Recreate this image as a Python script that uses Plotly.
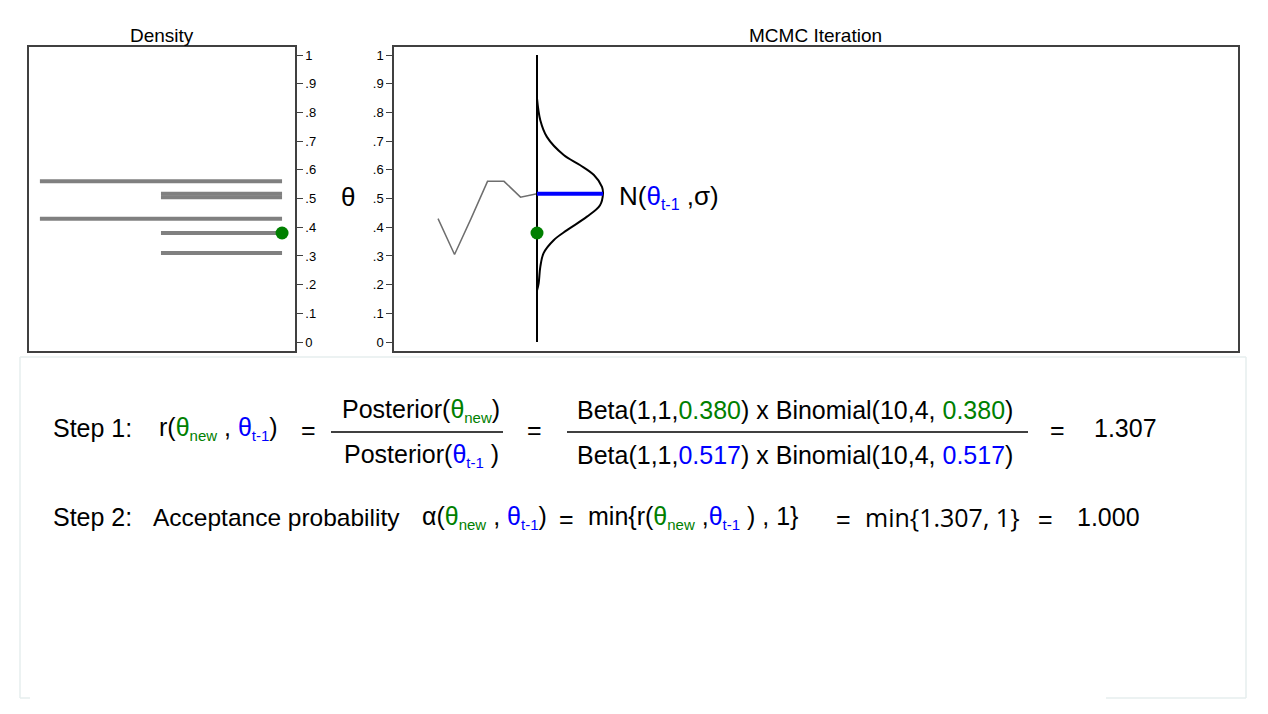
import plotly.graph_objects as go

# Density panel: horizontal bars (theta level, length in counts)
dens_theta = [0.56, 0.517, 0.505, 0.43, 0.38, 0.31]
dens_count = [2, 1, 1, 2, 1, 1]

# MCMC chain so far
iters = [1, 2, 3, 4, 5, 6, 7]
chain = [0.43, 0.305, 0.43, 0.56, 0.56, 0.505, 0.517]

# proposal
cur_iter = 7
theta_prev = 0.517
theta_new = 0.380

# proposal normal curve (x in iteration units)
curve_theta = [0.849, 0.773, 0.715, 0.652, 0.617, 0.582, 0.541, 0.517,
               0.477, 0.437, 0.390, 0.355, 0.310, 0.262, 0.205, 0.180]
curve_x = [7.0, 7.2, 7.6, 8.62, 9.6, 10.45, 10.94, 11.0,
           10.82, 10.03, 8.82, 8.01, 7.4, 7.2, 7.1, 7.0]

ytick_vals = [0, .1, .2, .3, .4, .5, .6, .7, .8, .9, 1]
ytick_text = ["0", ".1", ".2", ".3", ".4", ".5", ".6", ".7", ".8", ".9", "1"]

# page has an 8px body margin, so the figure is 16px smaller than the window
OFF = 8
W, H = 1268 - 2 * OFF, 714 - 2 * OFF
GREEN = "#008000"
BLUE = "#0000ff"
FONT = "Liberation Sans, Arial, sans-serif"
FS = 25


def px(x):
    return (x - OFF) / W


def py(y):
    return 1 - (y - OFF) / H


fig = go.Figure()

# density lines
for t, c in zip(dens_theta, dens_count):
    fig.add_trace(go.Scatter(x=[0, c], y=[t, t], mode="lines",
                             line=dict(color="#808080", width=4),
                             xaxis="x", yaxis="y", showlegend=False))
fig.add_trace(go.Scatter(x=[0], y=[theta_new], mode="markers",
                         marker=dict(color=GREEN, size=13),
                         xaxis="x", yaxis="y", showlegend=False))

# trace plot
fig.add_trace(go.Scatter(x=iters, y=chain, mode="lines",
                         line=dict(color="#6e6e6e", width=1.5),
                         xaxis="x2", yaxis="y2", showlegend=False))
fig.add_trace(go.Scatter(x=[cur_iter, cur_iter], y=[0, 1], mode="lines",
                         line=dict(color="black", width=2),
                         xaxis="x2", yaxis="y2", showlegend=False))
fig.add_trace(go.Scatter(x=curve_x, y=curve_theta, mode="lines",
                         line=dict(color="black", width=2, shape="spline"),
                         xaxis="x2", yaxis="y2", showlegend=False))
fig.add_trace(go.Scatter(x=[cur_iter, max(curve_x)], y=[theta_prev, theta_prev],
                         mode="lines", line=dict(color=BLUE, width=4),
                         xaxis="x2", yaxis="y2", showlegend=False))
fig.add_trace(go.Scatter(x=[cur_iter], y=[theta_new], mode="markers",
                         marker=dict(color=GREEN, size=13),
                         xaxis="x2", yaxis="y2", showlegend=False))

ax_common = dict(showline=True, mirror=True, linecolor="#404040", linewidth=1.5,
                 showgrid=False, zeroline=False)
yax = dict(ax_common, range=[-0.031, 1.028], tickvals=ytick_vals, ticktext=ytick_text,
           ticks="outside", ticklen=6, tickcolor="#404040",
           tickfont=dict(size=13, color="black", family=FONT),
           domain=[py(351), py(47)])

fig.update_layout(
    width=W, height=H,
    margin=dict(l=0, r=0, t=0, b=0),
    plot_bgcolor="white", paper_bgcolor="white",
    xaxis=dict(ax_common, domain=[px(29), px(295)], range=[2.09, -0.107],
               showticklabels=False, ticks=""),
    yaxis=dict(yax, side="right", anchor="x"),
    xaxis2=dict(ax_common, domain=[px(394), px(1238)], range=[-1.67, 49.5],
                showticklabels=False, ticks="", anchor="y2"),
    yaxis2=dict(yax, side="left", anchor="x2"),
)


def g(s):
    return "<span style='color:%s'>%s</span>" % (GREEN, s)


def b(s):
    return "<span style='color:%s'>%s</span>" % (BLUE, s)


def sub(s, size=15):
    return "<sub><span style='font-size:%dpx'>%s</span></sub>" % (size, s)


th_new = g("θ" + sub("new"))
th_old = b("θ" + sub("t-1"))

texts = [
    # (x, y, text, xanchor, size, family)
    (162, 35, "Density", "center", 19, FONT),
    (816, 35, "MCMC Iteration", "center", 19, FONT),
    (348, 197, "θ", "center", 26, FONT),
    (617, 197, "N(" + b("θ" + sub("t-1", 16)) + " ,σ)", "left", 26, FONT),
    (51, 428, "Step 1:", "left", FS, FONT),
    (157, 428, "r(" + th_new + " , " + th_old + ")", "left", FS, FONT),
    (308, 430, "=", "center", FS, FONT),
    (421, 410, "Posterior(" + th_new + ")", "center", FS, FONT),
    (421, 455, "Posterior(" + th_old + " )", "center", FS, FONT),
    (534, 430, "=", "center", FS, FONT),
    (795, 410, "Beta(1,1," + g("0.380") + ") x Binomial(10,4, " + g("0.380") + ")",
     "center", FS, FONT),
    (795, 455, "Beta(1,1," + b("0.517") + ") x Binomial(10,4, " + b("0.517") + ")",
     "center", FS, FONT),
    (1057, 430, "=", "center", FS, FONT),
    (1092, 428, "1.307", "left", FS, FONT),
    (51, 517, "Step 2:", "left", FS, FONT),
    (151, 517, "Acceptance probability", "left", 24.5, FONT),
    (420, 517, "α(" + th_new + " , " + th_old + ")", "left", FS, FONT),
    (566, 519, "=", "center", FS, FONT),
    (586, 517, "min{r(" + th_new + " ," + th_old + " ) , 1}", "left", FS, FONT),
    (843, 519, "=", "center", FS, FONT),
    (863, 517, "min{1.307, 1}", "left", 25, "Open Sans, sans-serif"),
    (1045, 519, "=", "center", FS, FONT),
    (1075, 517, "1.000", "left", FS, FONT),
]

for x, y, t, xa, s, fam in texts:
    fig.add_annotation(x=px(x), y=py(y), xref="paper", yref="paper", text=t,
                       showarrow=False, xanchor=xa, yanchor="middle",
                       font=dict(size=s, color="black", family=fam))

# fraction bars
for x0, x1 in [(331, 503), (567, 1028)]:
    fig.add_shape(type="line", xref="paper", yref="paper",
                  x0=px(x0), x1=px(x1), y0=py(432), y1=py(432),
                  line=dict(color="black", width=1.5))

# faint frame around the formula area
box_col = "#e6eeee"
for x0, y0, x1, y1 in [(20, 357, 1246, 357), (20, 357, 20, 698), (1246, 357, 1246, 698),
                       (20, 698, 30, 698), (1106, 698, 1246, 698)]:
    fig.add_shape(type="line", xref="paper", yref="paper",
                  x0=px(x0), x1=px(x1), y0=py(y0), y1=py(y1),
                  line=dict(color=box_col, width=1.5))

fig.write_html("out.html")
